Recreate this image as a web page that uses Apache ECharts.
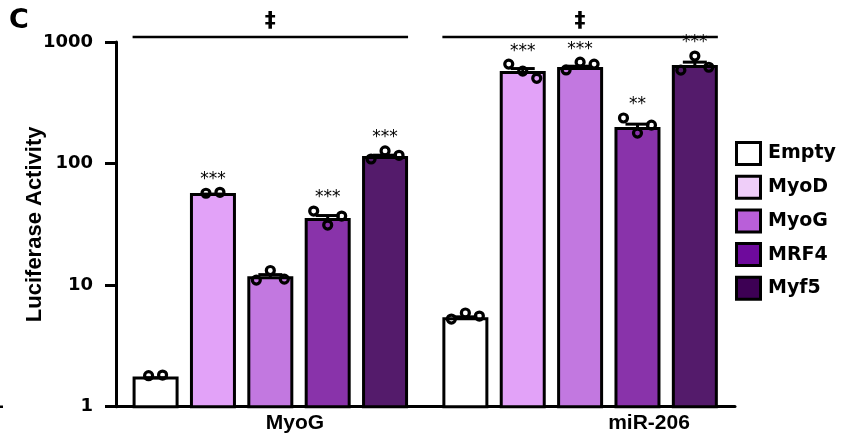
<!DOCTYPE html>
<html>
<head>
<meta charset="utf-8">
<script src="https://cdn.jsdelivr.net/npm/echarts@6/dist/echarts.min.js"></script>
<style>
  html, body { margin: 0; padding: 0; background: #fff; }
  #chart { width: 845px; height: 439px; }
</style>
</head>
<body>
<div id="chart"></div>
<script>
// Reporter constructs (x groups) and transfected factors (series)
const groups = ['MyoG', 'miR-206'];
const treatments = ['Empty', 'MyoD', 'MyoG', 'MRF4', 'Myf5'];

// Bar heights (mean luciferase activity), one value per reporter
const meanEmpty = [1.72, 5.3];
const meanMyoD  = [55.6, 560];
const meanMyoG  = [11.5, 604];
const meanMRF4  = [34.6, 194];
const meanMyf5  = [112, 628];

// Individual replicate measurements, per reporter
const repsEmpty = [[1.80, 1.82], [5.26, 5.9, 5.57]];
const repsMyoD  = [[57, 58], [658, 576, 503]];
const repsMyoG  = [[11.0, 13.2, 11.2], [589, 683, 658]];
const repsMRF4  = [[40.7, 31.2, 37.0], [237, 178, 207]];
const repsMyf5  = [[109, 127, 117], [587, 766, 620]];

// Significance marks versus Empty, per reporter
const sigEmpty = ['', ''];
const sigMyoD  = ['***', '***'];
const sigMyoG  = ['', '***'];
const sigMRF4  = ['***', '**'];
const sigMyf5  = ['***', '***'];

// Group-wide comparison marks above each reporter
const groupMarks = ['‡', '‡'];

// Y axis tick values
const yTicks = [1, 10, 100, 1000];

const means = [meanEmpty, meanMyoD, meanMyoG, meanMRF4, meanMyf5];
const reps  = [repsEmpty, repsMyoD, repsMyoG, repsMRF4, repsMyf5];
const sigs  = [sigEmpty, sigMyoD, sigMyoG, sigMRF4, sigMyf5];

const barColors    = ['#ffffff', '#e2a2f8', '#c278e0', '#8933aa', '#541b6b'];
const legendColors = ['#ffffff', '#efcef9', '#b95fd9', '#6e0a9c', '#3d0054'];

// layout along the x value axis: one unit per bar slot
const PITCH_PX = 57.4;
const GROUP_STRIDE = 5.4;
const BAR_W = 43;
const pos = (g, i) => g * GROUP_STRIDE + i;
const pxToUnits = px => px / PITCH_PX;
const jitter = (k, n) => n === 2 ? pxToUnits([-7, 7][k]) : pxToUnits((k - (n - 1) / 2) * 14);

const semOf = arr => {
  const n = arr.length;
  const m = arr.reduce((a, b) => a + b, 0) / n;
  const sd = Math.sqrt(arr.reduce((a, b) => a + (b - m) * (b - m), 0) / (n - 1));
  return sd / Math.sqrt(n);
};

const boldSans = { fontFamily: 'DejaVu Sans', fontWeight: 'bold', color: '#000' };

const series = [];

// bars: one series per factor, drawn from the axis floor (1) up to the mean
treatments.forEach((t, i) => {
  series.push({
    type: 'custom',
    name: t,
    z: 2,
    clip: false,
    silent: true,
    itemStyle: { color: legendColors[i], borderColor: '#000', borderWidth: 3, opacity: 1 },
    data: groups.map((g, gi) => [pos(gi, i), means[i][gi]]),
    renderItem: (params, api) => {
      const top = api.coord([api.value(0), api.value(1)]);
      const base = api.coord([api.value(0), 1]);
      return {
        type: 'rect',
        shape: { x: top[0] - BAR_W / 2, y: top[1], width: BAR_W, height: base[1] - top[1] },
        style: { fill: barColors[i], stroke: '#000', lineWidth: 3 }
      };
    }
  });
});

// error bars (upper SEM)
const errData = [];
treatments.forEach((t, i) => {
  groups.forEach((g, gi) => {
    errData.push([pos(gi, i), means[i][gi], semOf(reps[i][gi])]);
  });
});
series.push({
  type: 'custom',
  z: 3,
  clip: false,
  silent: true,
  data: errData,
  renderItem: (params, api) => {
    const x = api.value(0), m = api.value(1), s = api.value(2);
    const p0 = api.coord([x, m]);
    const p1 = api.coord([x, m + s]);
    const st = { stroke: '#000', lineWidth: 3 };
    return {
      type: 'group',
      children: [
        { type: 'line', shape: { x1: p0[0], y1: p0[1], x2: p1[0], y2: p1[1] }, style: st },
        { type: 'line', shape: { x1: p1[0] - 12, y1: p1[1], x2: p1[0] + 12, y2: p1[1] }, style: st }
      ]
    };
  }
});

// replicate points
const pts = [];
treatments.forEach((t, i) => {
  groups.forEach((g, gi) => {
    const r = reps[i][gi];
    r.forEach((v, k) => pts.push([pos(gi, i) + jitter(k, r.length), v]));
  });
});
series.push({
  type: 'scatter',
  z: 4,
  silent: true,
  symbol: 'circle',
  symbolSize: 8,
  itemStyle: { color: 'rgba(0,0,0,0)', borderColor: '#000', borderWidth: 3.2, opacity: 1 },
  data: pts
});

// significance stars above the highest replicate
const starData = [];
treatments.forEach((t, i) => {
  groups.forEach((g, gi) => {
    if (sigs[i][gi]) starData.push([pos(gi, i), Math.max(...reps[i][gi]), sigs[i][gi]]);
  });
});
series.push({
  type: 'custom',
  z: 5,
  clip: false,
  silent: true,
  data: starData,
  renderItem: (params, api) => {
    const p = api.coord([api.value(0), api.value(1)]);
    return {
      type: 'text',
      x: p[0], y: p[1] - 13,
      style: {
        text: starData[params.dataIndex][2],
        fontFamily: 'DejaVu Sans', fontSize: 17, fill: '#000',
        align: 'center', verticalAlign: 'middle'
      }
    };
  }
});

// group comparison lines with marks
series.push({
  type: 'custom',
  z: 5,
  clip: false,
  silent: true,
  data: groups.map((g, gi) => [pos(gi, 0), pos(gi, treatments.length - 1), gi]),
  renderItem: (params, api) => {
    const a = api.coord([api.value(0), 1])[0] - BAR_W / 2 - 1.5;
    const b = api.coord([api.value(1), 1])[0] + BAR_W / 2 + 1.5;
    const y = params.coordSys.y - 5;
    return {
      type: 'group',
      children: [
        { type: 'line', shape: { x1: a, y1: y, x2: b, y2: y }, style: { stroke: '#000', lineWidth: 2.5 } },
        { type: 'text', x: (a + b) / 2, y: y - 16,
          style: { text: groupMarks[api.value(2)], fontFamily: 'DejaVu Sans', fontWeight: 'bold',
                   fontSize: 22, fill: '#000', align: 'center', verticalAlign: 'middle' } }
      ]
    };
  }
});

const chart = echarts.init(document.getElementById('chart'), null, { renderer: 'canvas' });
chart.setOption({
  animation: false,
  backgroundColor: '#fff',
  grid: { left: 116, right: 110, top: 42, bottom: 32.3, outerBoundsMode: 'none' },
  xAxis: {
    type: 'value',
    min: -0.69,
    max: 10.1,
    axisLine: { show: true, onZero: false, lineStyle: { color: '#000', width: 3 } },
    axisTick: { show: false },
    axisLabel: { show: false },
    splitLine: { show: false }
  },
  yAxis: {
    type: 'log',
    logBase: 10,
    min: 1,
    max: 1000,
    name: 'Luciferase Activity',
    nameLocation: 'middle',
    nameGap: 70,
    nameMoveOverlap: false,
    nameTextStyle: { fontFamily: 'Liberation Sans', fontWeight: 'bold', fontSize: 22, color: '#000' },
    axisLine: { show: true, onZero: false, lineStyle: { color: '#000', width: 3 } },
    axisTick: { show: true, length: 11, customValues: yTicks, lineStyle: { color: '#000', width: 3 } },
    minorTick: { show: false },
    splitLine: { show: false },
    axisLabel: Object.assign({ margin: 23, fontSize: 18, customValues: yTicks, formatter: v => String(v) }, boldSans)
  },
  legend: {
    orient: 'vertical',
    left: 735,
    top: 141,
    padding: 0,
    icon: 'rect',
    itemWidth: 24,
    itemHeight: 22,
    itemGap: 8.7,
    selectedMode: false,
    textStyle: Object.assign({ fontSize: 19, padding: [0, 0, 0, 2.5] }, boldSans),
    data: treatments.map((t, i) => ({
      name: t,
      itemStyle: { color: legendColors[i], borderColor: '#000', borderWidth: 3, opacity: 1 }
    }))
  },
  graphic: [
    { type: 'text', x: 9, y: 21, style: { text: 'C', fontFamily: 'DejaVu Sans', fontWeight: 'bold', fontSize: 27, fill: '#000', verticalAlign: 'middle' } },
    { type: 'text', x: 295, y: 423, style: { text: groups[0], fontFamily: 'Liberation Sans', fontWeight: 'bold', fontSize: 21, fill: '#000', align: 'center', verticalAlign: 'middle' } },
    { type: 'text', x: 649, y: 423, style: { text: groups[1], fontFamily: 'Liberation Sans', fontWeight: 'bold', fontSize: 21, fill: '#000', align: 'center', verticalAlign: 'middle' } },
    { type: 'rect', shape: { x: 0, y: 405.5, width: 3, height: 2.5 }, style: { fill: '#000' } }
  ],
  series: series
});
</script>
</body>
</html>
